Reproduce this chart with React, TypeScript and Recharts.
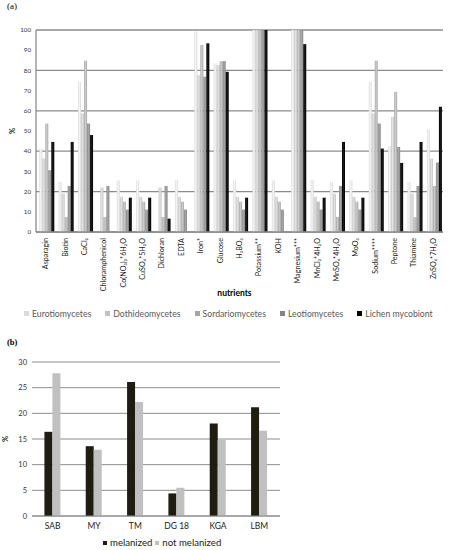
import React from "react";
import { BarChart, Bar, XAxis, YAxis, CartesianGrid, Label } from "recharts";

// (a) growth on nutrients, % of strains per class
const nutrients = [
  "Asparagin",
  "Biotin",
  "CaCl₂",
  "Chloramphenicol",
  "Co(NO₃)₂*6H₂O",
  "CuSO₄*5H₂O",
  "Dichloran",
  "EDTA",
  "Iron*",
  "Glucose",
  "H₃BO₃",
  "Potassium**",
  "KOH",
  "Magnesium***",
  "MnCl₂*4H₂O",
  "MnSO₄*4H₂O",
  "MoO₃",
  "Sodium****",
  "Peptone",
  "Thiamine",
  "ZnSO₄*7H₂O",
];
const eurotiomycetes = [41.3, 24.8, 74.4, 0, 25.6, 25.6, 0, 25.6, 99.2, 83.5, 25.6, 100, 25.6, 100, 25.6, 24.8, 25.6, 74.4, 42.5, 24.8, 50.9];
const dothideomycetes = [36.4, 19, 58.7, 22, 17.4, 17.4, 22, 17.4, 77.7, 82.6, 17.4, 100, 17.4, 100, 17.4, 19, 17.4, 58.7, 57, 19, 36.4];
const sordariomycetes = [53.7, 7.4, 84.8, 7.4, 15, 15, 7.4, 15, 92.6, 84.6, 15, 100, 15, 100, 15, 7.4, 15, 84.8, 69.4, 7.4, 22.8];
const leotiomycetes = [30.6, 22.8, 53.7, 22.8, 11.1, 11.1, 22.8, 11.1, 76.9, 84.6, 11.1, 100, 11.1, 100, 11.1, 22.8, 11.1, 53.7, 42.1, 22.8, 34.4];
const lichenMycobiont = [44.6, 44.6, 48, 0, 17, 17, 6.6, 0, 93.4, 79.3, 17, 100, 0, 93, 17, 44.6, 17, 41.3, 34.2, 44.6, 62];
const percentTicks = [0, 10, 20, 30, 40, 50, 60, 70, 80, 90, 100];

// (b) media
const media = ["SAB", "MY", "TM", "DG 18", "KGA", "LBM"];
const melanized = [16.4, 13.6, 26.1, 4.4, 18.0, 21.2];
const notMelanized = [27.8, 12.9, 22.2, 5.5, 14.8, 16.6];
const mediaTicks = [0, 5, 10, 15, 20, 25, 30];

const dataA = nutrients.map((name, i) => ({
  name,
  euro: eurotiomycetes[i],
  doth: dothideomycetes[i],
  sord: sordariomycetes[i],
  leot: leotiomycetes[i],
  lichen: lichenMycobiont[i],
}));

const dataB = media.map((name, i) => ({
  name,
  melanized: melanized[i],
  notMelanized: notMelanized[i],
}));

const SERIES_A = [
  { key: "euro", label: "Eurotiomycetes", color: "#dadada", light: "#f6f6f6" },
  { key: "doth", label: "Dothideomycetes", color: "#c2c2c2", light: "#e4e4e4" },
  { key: "sord", label: "Sordariomycetes", color: "#a6a6a6", light: "#cdcdcd" },
  { key: "leot", label: "Leotiomycetes", color: "#858585", light: "#a8a8a8" },
  { key: "lichen", label: "Lichen mycobiont", color: "#000000", light: "#1a1a1a" },
];

const GRID = "#8c8c8c";
const FONT = "Lato, 'Open Sans', sans-serif";

function NutrientTick({ x, y, payload }: any) {
  const ty = y + 6;
  return (
    <text
      x={x}
      y={ty}
      transform={`rotate(-90, ${x}, ${ty})`}
      textAnchor="end"
      dy="0.35em"
      fontSize={7.2}
      fill="#222"
      fontFamily={FONT}
    >
      {payload.value}
    </text>
  );
}

function AxisPercent({ viewBox, dx }: any) {
  const cx = viewBox.x + dx;
  const cy = viewBox.y + viewBox.height / 2;
  return (
    <text
      x={cx}
      y={cy}
      transform={`rotate(-90, ${cx}, ${cy})`}
      textAnchor="middle"
      dominantBaseline="central"
      fontSize={7.5}
      fontWeight={700}
      fill="#222"
      fontFamily={FONT}
    >
      %
    </text>
  );
}

function LegendSquare({ color, size }: { color: string; size: number }) {
  return (
    <span
      style={{
        display: "inline-block",
        width: size,
        height: size,
        background: color,
        marginRight: 3,
      }}
    />
  );
}

export default function App() {
  return (
    <div
      style={{
        position: "absolute",
        left: 0,
        top: 0,
        width: 458,
        height: 550,
        background: "#fff",
        fontFamily: FONT,
      }}
    >
      <div style={{ position: "absolute", left: 7, top: 1, fontSize: 9, fontFamily: "'Liberation Serif', serif" }}>
        (a)
      </div>

      <div style={{ position: "absolute", left: 0, top: 0 }}>
        <BarChart
          width={458}
          height={300}
          data={dataA}
          margin={{ top: 30, right: 15, bottom: 0, left: 0 }}
          barCategoryGap="17%"
          barGap={0}
        >
          <defs>
            {SERIES_A.map((s) => (
              <linearGradient key={s.key} id={`grad-${s.key}`} x1="0" y1="0" x2="1" y2="0">
                <stop offset="0%" stopColor={s.color} />
                <stop offset="45%" stopColor={s.light} />
                <stop offset="100%" stopColor={s.color} />
              </linearGradient>
            ))}
          </defs>
          <CartesianGrid vertical={false} stroke={GRID} strokeWidth={1.3} />
          <XAxis
            dataKey="name"
            interval={0}
            height={68}
            tickLine={false}
            tickSize={0}
            tickMargin={0}
            axisLine={{ stroke: GRID, strokeWidth: 1.3 }}
            tick={<NutrientTick />}
          >
            <Label
              value="nutrients"
              position="insideBottom"
              offset={4}
              dx={-5}
              style={{ fontSize: 8.5, fontWeight: 700, fill: "#000", fontFamily: FONT }}
            />
          </XAxis>
          <YAxis
            width={36}
            domain={[0, 100]}
            ticks={percentTicks}
            tickLine={false}
            tickSize={0}
            tickMargin={5}
            axisLine={{ stroke: GRID, strokeWidth: 1.3 }}
            tick={{ fontSize: 6.2, fill: "#333", fontFamily: FONT }}
            label={<Label content={(p: any) => <AxisPercent {...p} dx={12.5} />} />}
          />
          {SERIES_A.map((s) => (
            <Bar
              key={s.key}
              dataKey={s.key}
              name={s.label}
              fill={`url(#grad-${s.key})`}
              isAnimationActive={false}
            />
          ))}
        </BarChart>
      </div>

      {/* legend (a) */}
      <div
        style={{
          position: "absolute",
          left: 24,
          top: 308,
          display: "flex",
          gap: 14,
          fontSize: 8.7,
          color: "#595959",
          lineHeight: "11px",
          alignItems: "center",
          whiteSpace: "nowrap",
        }}
      >
        {SERIES_A.map((s) => (
          <span key={s.key} style={{ display: "flex", alignItems: "center" }}>
            <LegendSquare color={s.key === "lichen" ? "#000" : s.color} size={5} />
            {s.label}
          </span>
        ))}
      </div>

      <div
        style={{
          position: "absolute",
          left: 7,
          top: 337,
          fontSize: 8.5,
          fontWeight: 700,
          fontFamily: "'Liberation Serif', serif",
        }}
      >
        (b)
      </div>

      <div style={{ position: "absolute", left: 0, top: 340 }}>
        <BarChart
          width={300}
          height={196}
          data={dataB}
          margin={{ top: 22, right: 20, bottom: 0, left: 0 }}
          barCategoryGap="30%"
          barGap={0}
        >
          <CartesianGrid vertical={false} stroke={GRID} strokeWidth={1} />
          <XAxis
            dataKey="name"
            height={20}
            tickLine={false}
            tickSize={0}
            tickMargin={7}
            axisLine={{ stroke: GRID }}
            tick={{ fontSize: 8.5, fill: "#222", fontFamily: FONT }}
          />
          <YAxis
            width={32}
            domain={[0, 30]}
            ticks={mediaTicks}
            axisLine={false}
            tickLine={false}
            tickSize={0}
            tickMargin={5}
            tick={{ fontSize: 7.5, fill: "#333", fontFamily: FONT }}
            label={<Label content={(p: any) => <AxisPercent {...p} dx={5} />} />}
          />
          <Bar dataKey="melanized" name="melanized" fill="#1f1d12" isAnimationActive={false} />
          <Bar dataKey="notMelanized" name="not melanized" fill="#c0c0c0" isAnimationActive={false} />
        </BarChart>
      </div>

      {/* legend (b) */}
      <div
        style={{
          position: "absolute",
          left: 103,
          top: 537,
          display: "flex",
          alignItems: "center",
          gap: 3,
          fontSize: 9.6,
          color: "#222",
          lineHeight: "11px",
          whiteSpace: "nowrap",
        }}
      >
        <span style={{ display: "flex", alignItems: "center" }}>
          <LegendSquare color="#1f1d12" size={4} />
          melanized
        </span>
        <span style={{ display: "flex", alignItems: "center" }}>
          <LegendSquare color="#c0c0c0" size={4} />
          not melanized
        </span>
      </div>
    </div>
  );
}
